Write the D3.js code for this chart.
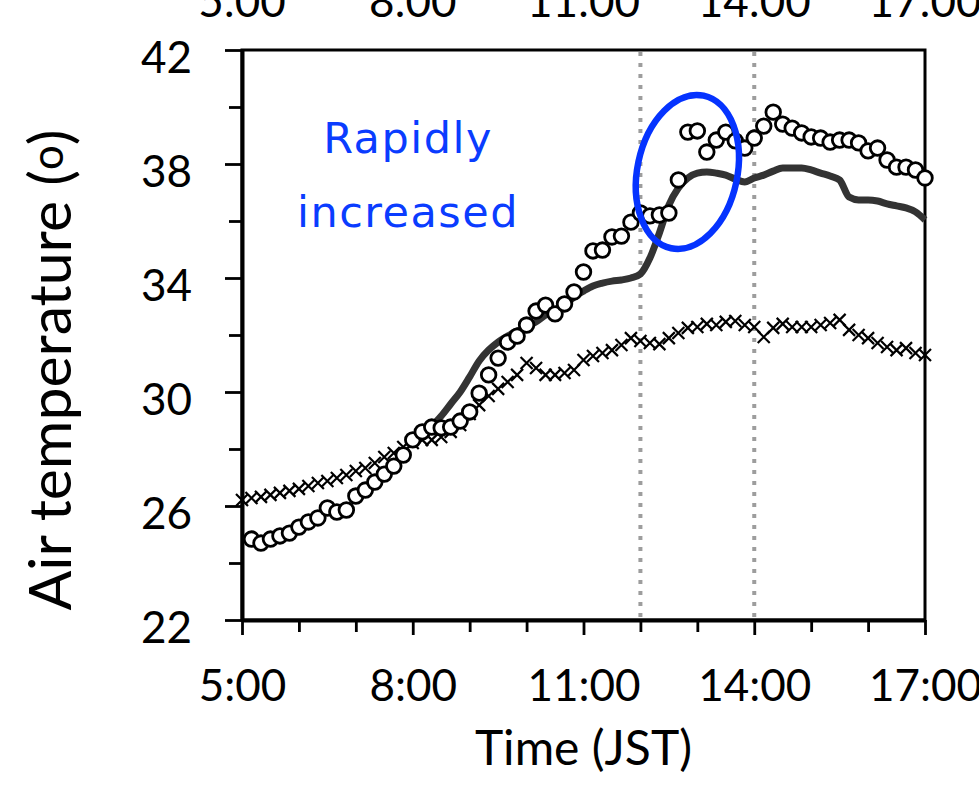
<!DOCTYPE html>
<html>
<head>
<meta charset="utf-8">
<script src="https://cdn.jsdelivr.net/npm/d3@7"></script>
<style>
  body { margin: 0; background: #fff; }
</style>
</head>
<body>
<div id="app"></div>
<script>
const WIDTH = 979
const HEIGHT = 801
const STEP = 10 / 60 // 10-minute records

const xLabelHours = [5, 8, 11, 14, 17]
const yLabelTicks = [22, 26, 30, 34, 38, 42]
const markedHours = [12, 14]

// open circles, 5:10 – 17:00
const circleTemps = [
  24.84, 24.70, 24.84, 24.95, 25.05, 25.26, 25.44, 25.58, 25.93, 25.79,
  25.86, 26.35, 26.56, 26.84, 27.12, 27.40, 27.79, 28.32, 28.60, 28.77,
  28.74, 28.77, 28.98, 29.30, 29.96, 30.60, 31.19, 31.75, 31.96, 32.35,
  32.84, 33.05, 32.74, 33.09, 33.51, 34.21, 34.95, 34.98, 35.44, 35.47,
  35.96, 36.28, 36.18, 36.21, 36.28, 37.44, 39.12, 39.16, 38.42, 38.84,
  39.12, 38.81, 38.56, 38.91, 39.33, 39.82, 39.40, 39.26, 39.09, 38.95,
  38.91, 38.77, 38.84, 38.84, 38.74, 38.46, 38.56, 38.14, 37.89, 37.89,
  37.79, 37.51
]
// crosses, 5:00 – 17:00
const crossTemps = [
  26.21, 26.28, 26.32, 26.39, 26.46, 26.53, 26.60, 26.70, 26.81, 26.88,
  26.98, 27.09, 27.23, 27.33, 27.51, 27.72, 27.86, 28.07, 28.21, 28.32,
  28.32, 28.42, 28.60, 28.84, 29.23, 29.54, 29.86, 30.11, 30.35, 30.60,
  31.02, 30.84, 30.60, 30.60, 30.67, 30.77, 31.12, 31.26, 31.37, 31.47,
  31.65, 31.89, 31.79, 31.72, 31.68, 31.89, 32.07, 32.25, 32.28, 32.39,
  32.35, 32.46, 32.49, 32.35, 32.28, 31.93, 32.25, 32.39, 32.28, 32.28,
  32.28, 32.35, 32.42, 32.53, 32.18, 32.00, 31.89, 31.72, 31.58, 31.47,
  31.54, 31.37, 31.30
]
// solid line, 8:10 – 17:00
const lineTemps = [
  28.60, 28.81, 29.16, 29.58, 30.00, 30.53, 31.09, 31.47, 31.75, 31.96,
  32.14, 32.28, 32.46, 32.70, 32.88, 33.05, 33.33, 33.54, 33.72, 33.82,
  33.89, 33.93, 34.00, 34.14, 34.70, 35.58, 36.56, 37.16, 37.51, 37.68,
  37.72, 37.68, 37.61, 37.47, 37.37, 37.51, 37.61, 37.75, 37.86, 37.86,
  37.86, 37.79, 37.68, 37.58, 37.44, 36.84, 36.74, 36.74, 36.70, 36.60,
  36.53, 36.46, 36.32, 36.04
]

const noteLines = ['Rapidly', 'increased']
const noteCenter = { t: 12.825, v: 37.72 } // blue ellipse

const series = (vals, first) => vals.map((v, i) => ({ t: first + i * STEP, v }))
const circles = series(circleTemps, 5 + STEP)
const crosses = series(crossTemps, 5)
const solid = series(lineTemps, 8 + STEP)

const x = d3.scaleLinear().domain([5, 17]).range([242, 925])
const y = d3.scaleLinear().domain([22, 42]).range([620, 50])

const svg = d3.select('#app').append('svg')
  .attr('width', WIDTH)
  .attr('height', HEIGHT)
  .style('display', 'block')
  .style('font-family', 'Lato, sans-serif')

// plot frame
svg.append('rect')
  .attr('x', x(5)).attr('y', y(42))
  .attr('width', x(17) - x(5)).attr('height', y(22) - y(42))
  .attr('fill', 'none')
  .attr('stroke', '#000')
  .attr('stroke-width', 3)

// dotted reference lines
svg.append('g')
.selectAll('line')
  .data(markedHours)
  .enter()
.append('line')
  .attr('x1', d => x(d)).attr('x2', d => x(d))
  .attr('y1', y(42) + 2).attr('y2', y(22))
  .attr('stroke', '#9d9d9d')
  .attr('stroke-width', 4)
  .attr('stroke-dasharray', '4,7')

// y axis
const yAxis = svg.append('g')
  .attr('transform', `translate(${x(5)},0)`)
  .call(d3.axisLeft(y)
    .tickValues(d3.range(22, 43, 2))
    .tickSize(13)
    .tickSizeOuter(0)
    .tickPadding(37)
    .tickFormat(d => yLabelTicks.includes(d) ? d : ''))
yAxis.select('.domain').attr('stroke-width', 4)
yAxis.selectAll('.tick line')
  .attr('stroke-width', 2.8)
  .attr('x2', d => yLabelTicks.includes(d) ? -17 : -13)
yAxis.selectAll('.tick text')
  .attr('font-size', 44)
  .attr('font-family', 'Lato, sans-serif')
  .attr('fill', '#000')
  .attr('dy', '0.5em')

// x axis
const xAxis = svg.append('g')
  .attr('transform', `translate(0,${y(22)})`)
  .call(d3.axisBottom(x)
    .tickValues(d3.range(5, 18))
    .tickSize(12)
    .tickSizeOuter(0)
    .tickPadding(38)
    .tickFormat(d => xLabelHours.includes(d) ? `${d}:00` : ''))
xAxis.select('.domain').attr('stroke-width', 4)
xAxis.selectAll('.tick line')
  .attr('stroke-width', 2.8)
  .attr('y2', d => xLabelHours.includes(d) ? 15 : 12)
xAxis.selectAll('.tick text')
  .attr('font-size', 44)
  .attr('font-family', 'Lato, sans-serif')
  .attr('fill', '#000')

// duplicate labels cut off at the top edge
svg.append('g')
.selectAll('text')
  .data(xLabelHours)
  .enter()
.append('text')
  .attr('x', d => x(d))
  .attr('y', 17)
  .attr('text-anchor', 'middle')
  .attr('font-size', 44)
  .text(d => `${d}:00`)

// axis titles
svg.append('text')
  .attr('x', (x(5) + x(17)) / 2)
  .attr('y', 765)
  .attr('text-anchor', 'middle')
  .attr('font-size', 48)
  .text('Time (JST)')

const yTitle = svg.append('text')
  .attr('transform', `translate(71,370) rotate(-90)`)
  .attr('text-anchor', 'middle')
  .attr('font-size', 59)
yTitle.append('tspan').text('Air temperature (')
yTitle.append('tspan').attr('font-size', 44).attr('dy', -8).text('o')
yTitle.append('tspan').attr('dy', 8).text(')')

// solid series
svg.append('path')
  .datum(solid)
  .attr('fill', 'none')
  .attr('stroke', '#333')
  .attr('stroke-width', 7)
  .attr('stroke-linejoin', 'round')
  .attr('d', d3.line().x(d => x(d.t)).y(d => y(d.v)).curve(d3.curveMonotoneX))

// crosses
svg.append('g')
.selectAll('path')
  .data(crosses)
  .enter()
.append('path')
  .attr('transform', d => `translate(${x(d.t)},${y(d.v)})`)
  .attr('d', 'M-6,-6L6,6M-6,6L6,-6')
  .attr('stroke', '#000')
  .attr('stroke-width', 2.2)

// open circles
svg.append('g')
.selectAll('circle')
  .data(circles)
  .enter()
.append('circle')
  .attr('cx', d => x(d.t))
  .attr('cy', d => y(d.v))
  .attr('r', 7.3)
  .attr('fill', '#fff')
  .attr('stroke', '#000')
  .attr('stroke-width', 2.8)

// annotation
svg.append('ellipse')
  .attr('transform', `translate(${x(noteCenter.t)},${y(noteCenter.v)}) rotate(12)`)
  .attr('rx', 50)
  .attr('ry', 78)
  .attr('fill', 'none')
  .attr('stroke', '#0533ff')
  .attr('stroke-width', 6.5)

svg.append('g')
.selectAll('text')
  .data(noteLines)
  .enter()
.append('text')
  .attr('x', 408)
  .attr('y', (d, i) => 153 + i * 74)
  .attr('text-anchor', 'middle')
  .attr('font-family', '"DejaVu Sans", sans-serif')
  .attr('font-size', 43)
  .attr('letter-spacing', 1.5)
  .attr('fill', '#0a3cff')
  .text(d => d)
</script>
</body>
</html>
